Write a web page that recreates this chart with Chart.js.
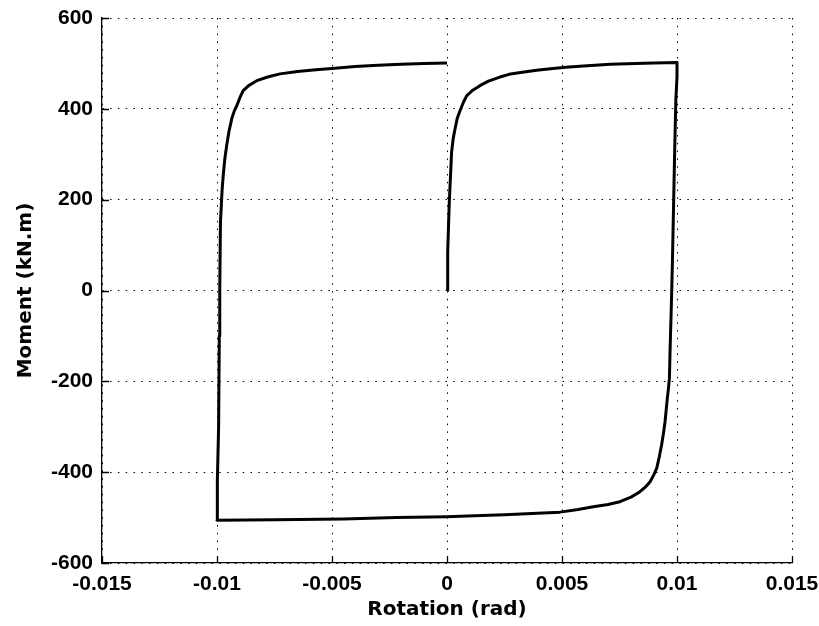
<!DOCTYPE html>
<html>
<head>
<meta charset="utf-8">
<script src="https://cdn.jsdelivr.net/npm/chart.js@4.4.1/dist/chart.umd.min.js"></script>
<style>
  html, body { margin: 0; padding: 0; background: #fff; }
  #wrap { width: 819px; height: 626px; }
</style>
</head>
<body>
<div id="wrap"><canvas id="c" width="819" height="626"></canvas></div>
<script>
// Hysteresis curve: rotation (rad) vs moment (kN.m), traced in order
// 1) initial loading branch
const rotLoad = [0, 0.00003, 0.0001, 0.00015, 0.0002, 0.00027, 0.00035, 0.00045, 0.0006, 0.00072, 0.00086, 0.00112, 0.00143, 0.0018, 0.0023, 0.0027, 0.0032, 0.0039, 0.0046, 0.0053, 0.0061, 0.0071, 0.0082, 0.009, 0.01];
const momLoad = [0, 85, 195, 250, 305, 335, 356, 380, 400, 415, 429, 441, 451, 461, 470, 476, 480, 485, 489, 492, 495, 498, 500, 501, 502];
// 2) unloading / reverse loading branch
const rotUnload = [0.01, 0.00995, 0.0099, 0.00985, 0.0098, 0.00975, 0.0097, 0.00967, 0.00963, 0.00958, 0.00953, 0.00948, 0.00941, 0.00933, 0.00923, 0.00912, 0.00898, 0.00883, 0.00862, 0.00839, 0.008, 0.00752, 0.007, 0.00636, 0.0057, 0.00491, 0.0037, 0.0025, 0.0012, 0, -0.0022, -0.0045, -0.0075, -0.01];
const momUnload = [470, 420, 310, 185, 60, -40, -130, -193, -215, -237, -263, -289, -315, -340, -366, -391, -407, -421, -433, -443, -455, -465, -471, -476, -482, -488, -491, -494, -496, -498, -500, -503, -505, -506];
// 3) reloading branch
const rotReload = [-0.01, -0.00997, -0.00993, -0.0099, -0.00988, -0.00985, -0.00978, -0.00973, -0.00966, -0.00958, -0.00948, -0.00936, -0.00925, -0.00914, -0.009, -0.00886, -0.0086, -0.00827, -0.0078, -0.00726, -0.0065, -0.0057, -0.005, -0.004, -0.003, -0.002, -0.001, 0];
const momReload = [-470, -420, -300, -100, 0, 150, 220, 253, 290, 319, 350, 378, 395, 407, 425, 440, 452, 462, 470, 477, 482, 486, 489, 493, 496, 498, 500, 501];

const xTicks = [-0.015, -0.01, -0.005, 0, 0.005, 0.01, 0.015];
const yTicks = [-600, -400, -200, 0, 200, 400, 600];
const xTitle = 'Rotation (rad)';
const yTitle = 'Moment (kN.m)';

const rotation = rotLoad.concat(rotUnload, rotReload);
const moment = momLoad.concat(momUnload, momReload);
const points = rotation.map((r, i) => ({ x: r, y: moment[i] }));

const tickFont = { family: '"Liberation Sans", Arial, sans-serif', size: 21, weight: 'bold' };
const titleFont = { family: '"DejaVu Sans", sans-serif', size: 20, weight: 'bold' };

const inwardTicks = {
  id: 'inwardTicks',
  afterDraw(chart) {
    const { ctx, chartArea, scales } = chart;
    ctx.save();
    ctx.strokeStyle = '#000';
    ctx.lineWidth = 1.3;
    ctx.beginPath();
    xTicks.forEach(v => {
      const px = Math.round(scales.x.getPixelForValue(v)) + 0.5;
      ctx.moveTo(px, chartArea.bottom);
      ctx.lineTo(px, chartArea.bottom - 7);
    });
    yTicks.forEach(v => {
      const py = Math.round(scales.y.getPixelForValue(v)) + 0.5;
      ctx.moveTo(chartArea.left, py);
      ctx.lineTo(chartArea.left + 7, py);
    });
    ctx.stroke();
    ctx.restore();
  }
};

new Chart(document.getElementById('c'), {
  type: 'scatter',
  data: {
    datasets: [{
      data: points,
      showLine: true,
      borderColor: '#000',
      borderWidth: 3,
      borderJoinStyle: 'round',
      pointRadius: 0,
      tension: 0,
      fill: false
    }]
  },
  options: {
    responsive: false,
    animation: false,
    devicePixelRatio: 1,
    layout: { padding: { top: 18, right: 27, left: 0, bottom: 0 } },
    plugins: { legend: { display: false }, tooltip: { enabled: false } },
    scales: {
      x: {
        type: 'linear',
        min: -0.015, max: 0.015,
        afterBuildTicks: s => { s.ticks = xTicks.map(v => ({ value: v })); },
        afterFit: s => { s.height = 63; s.paddingLeft = 0; s.paddingRight = 0; },
        ticks: {
          color: '#000', font: tickFont, padding: 9, maxRotation: 0,
          callback: v => String(v)
        },
        grid: { color: '#000', lineWidth: 1, drawTicks: false },
        border: { display: true, color: '#000', width: 1.3, dash: [1.5, 6.3] },
        title: { display: true, text: xTitle, color: '#000', font: titleFont, padding: { top: 0, bottom: 4 } }
      },
      y: {
        type: 'linear',
        min: -600, max: 600,
        afterBuildTicks: s => { s.ticks = yTicks.map(v => ({ value: v })); },
        afterFit: s => { s.width = 102; s.paddingTop = 0; s.paddingBottom = 0; },
        ticks: { color: '#000', font: tickFont, padding: 9, callback: v => String(v) },
        grid: { color: '#000', lineWidth: 1, drawTicks: false },
        border: { display: true, color: '#000', width: 1.3, dash: [1.5, 6.3] },
        title: { display: true, text: yTitle, color: '#000', font: titleFont, padding: { top: 14, bottom: 0 } }
      }
    }
  },
  plugins: [inwardTicks]
});
</script>
</body>
</html>
